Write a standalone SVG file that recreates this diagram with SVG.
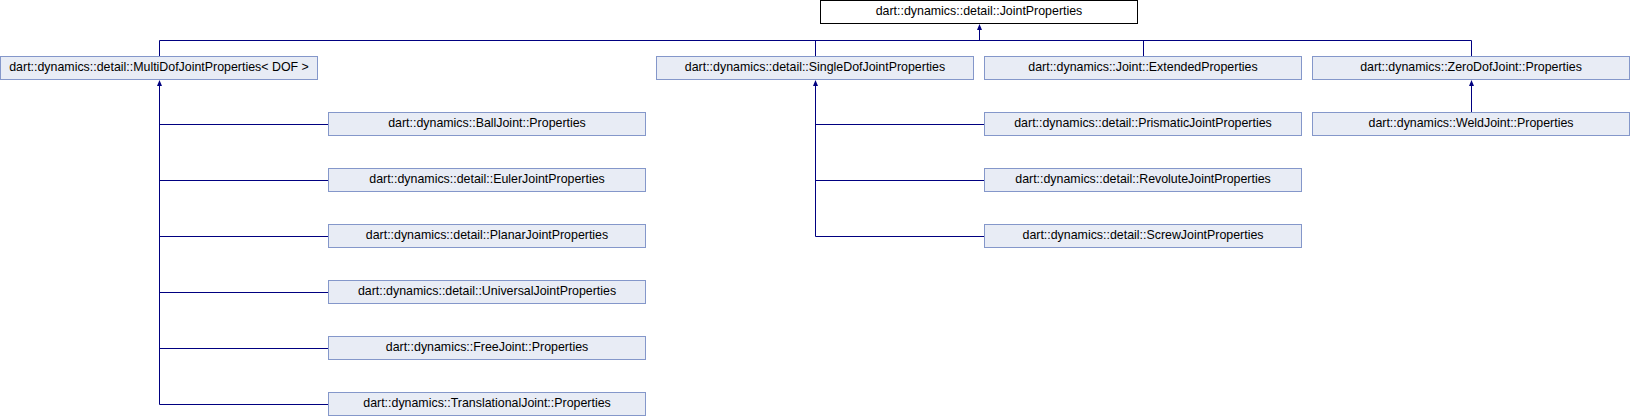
<svg xmlns="http://www.w3.org/2000/svg" width="1630" height="416" viewBox="0 0 1630 416">
<defs>
<style>
.n rect{fill:#E8ECF5;stroke:#8497CA;stroke-width:1}
.cur rect{fill:#FFFFFF;stroke:#000000;stroke-width:1}
text{font-family:"Liberation Sans",Arial,sans-serif;font-size:12.4px;fill:#000000;text-anchor:middle}
.e{fill:none;stroke:#000080;stroke-width:1}
.a{fill:#000080;stroke:none}
</style>
</defs>
<rect x="0" y="0" width="1630" height="416" fill="#FFFFFF"/>
<g id="connectors">
<path class="e" d="M159.5,40.5H1471.5M979.5,40.5V28M159.5,40.5V56M815.5,40.5V56M1143.5,40.5V56M1471.5,40.5V56"/>
<path class="e" d="M159.5,84V404.5M159.5,124.5H328M159.5,180.5H328M159.5,236.5H328M159.5,292.5H328M159.5,348.5H328M159.5,404.5H328"/>
<path class="e" d="M815.5,84V236.5M815.5,124.5H984M815.5,180.5H984M815.5,236.5H984"/>
<path class="e" d="M1471.5,84V112"/>
<polygon class="a" points="979.5,24 977,30 982,30"/>
<polygon class="a" points="159.5,80 157,86 162,86"/>
<polygon class="a" points="815.5,80 813,86 818,86"/>
<polygon class="a" points="1471.5,80 1469,86 1474,86"/>
</g>
<g id="JointProperties" class="cur"><rect x="820.5" y="0.5" width="317" height="23"/><text x="979" y="15">dart::dynamics::detail::JointProperties</text></g>
<g id="MultiDofJointProperties" class="n"><rect x="0.5" y="56.5" width="317" height="23"/><text x="159" y="71">dart::dynamics::detail::MultiDofJointProperties&lt; DOF &gt;</text></g>
<g id="SingleDofJointProperties" class="n"><rect x="656.5" y="56.5" width="317" height="23"/><text x="815" y="71">dart::dynamics::detail::SingleDofJointProperties</text></g>
<g id="ExtendedProperties" class="n"><rect x="984.5" y="56.5" width="317" height="23"/><text x="1143" y="71">dart::dynamics::Joint::ExtendedProperties</text></g>
<g id="ZeroDofJointProperties" class="n"><rect x="1312.5" y="56.5" width="317" height="23"/><text x="1471" y="71">dart::dynamics::ZeroDofJoint::Properties</text></g>
<g id="BallJointProperties" class="n"><rect x="328.5" y="112.5" width="317" height="23"/><text x="487" y="127">dart::dynamics::BallJoint::Properties</text></g>
<g id="EulerJointProperties" class="n"><rect x="328.5" y="168.5" width="317" height="23"/><text x="487" y="183">dart::dynamics::detail::EulerJointProperties</text></g>
<g id="PlanarJointProperties" class="n"><rect x="328.5" y="224.5" width="317" height="23"/><text x="487" y="239">dart::dynamics::detail::PlanarJointProperties</text></g>
<g id="UniversalJointProperties" class="n"><rect x="328.5" y="280.5" width="317" height="23"/><text x="487" y="295">dart::dynamics::detail::UniversalJointProperties</text></g>
<g id="FreeJointProperties" class="n"><rect x="328.5" y="336.5" width="317" height="23"/><text x="487" y="351">dart::dynamics::FreeJoint::Properties</text></g>
<g id="TranslationalJointProperties" class="n"><rect x="328.5" y="392.5" width="317" height="23"/><text x="487" y="407">dart::dynamics::TranslationalJoint::Properties</text></g>
<g id="PrismaticJointProperties" class="n"><rect x="984.5" y="112.5" width="317" height="23"/><text x="1143" y="127">dart::dynamics::detail::PrismaticJointProperties</text></g>
<g id="RevoluteJointProperties" class="n"><rect x="984.5" y="168.5" width="317" height="23"/><text x="1143" y="183">dart::dynamics::detail::RevoluteJointProperties</text></g>
<g id="ScrewJointProperties" class="n"><rect x="984.5" y="224.5" width="317" height="23"/><text x="1143" y="239">dart::dynamics::detail::ScrewJointProperties</text></g>
<g id="WeldJointProperties" class="n"><rect x="1312.5" y="112.5" width="317" height="23"/><text x="1471" y="127">dart::dynamics::WeldJoint::Properties</text></g>
</svg>
